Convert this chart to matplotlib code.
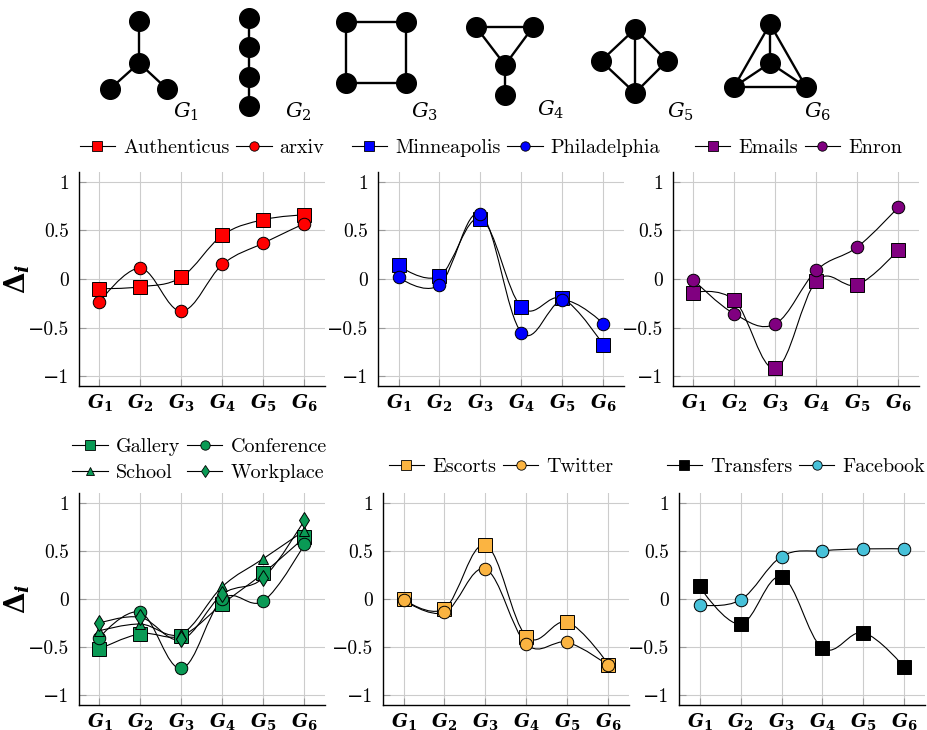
import numpy as np
import matplotlib
matplotlib.use('Agg')
import matplotlib.pyplot as plt
from matplotlib.path import Path
from matplotlib.patches import PathPatch
from matplotlib.lines import Line2D
from matplotlib.ticker import FuncFormatter

plt.rcParams['font.family'] = ['cmr10', 'DejaVu Serif']
plt.rcParams['mathtext.fontset'] = 'custom'
plt.rcParams['mathtext.rm'] = 'DejaVu Serif'
plt.rcParams['mathtext.it'] = 'DejaVu Serif:italic'
plt.rcParams['mathtext.bf'] = 'DejaVu Serif:bold:italic'
plt.rcParams['mathtext.sf'] = 'DejaVu Serif:bold'

# graphlets on the x axis
graphlets = [1, 2, 3, 4, 5, 6]
xtick_labels = [r'$\mathbf{G}_\mathsf{%d}$' % g for g in graphlets]
yticks = [-1, -0.5, 0, 0.5, 1]

# Delta_i values per network
authenticus = [-0.10, -0.08, 0.02, 0.45, 0.61, 0.66]
arxiv = [-0.24, 0.11, -0.33, 0.15, 0.37, 0.57]
minneapolis = [0.14, 0.03, 0.62, -0.29, -0.20, -0.68]
philadelphia = [0.02, -0.06, 0.67, -0.55, -0.22, -0.46]
emails = [-0.14, -0.22, -0.92, -0.02, -0.06, 0.30]
enron = [-0.01, -0.36, -0.46, 0.09, 0.33, 0.74]
gallery = [-0.52, -0.36, -0.38, -0.05, 0.27, 0.64]
conference = [-0.40, -0.14, -0.72, 0.00, -0.02, 0.57]
school = [-0.33, -0.26, -0.36, 0.13, 0.42, 0.71]
workplace = [-0.25, -0.19, -0.42, 0.05, 0.22, 0.82]
escorts = [0.00, -0.10, 0.56, -0.39, -0.24, -0.68]
twitter = [-0.01, -0.14, 0.31, -0.47, -0.45, -0.69]
transfers = [0.13, -0.26, 0.23, -0.51, -0.35, -0.71]
facebook = [-0.06, -0.01, 0.44, 0.50, 0.52, 0.52]

red, blue, purple = '#ff0000', '#0000ff', '#800080'
green, orange, cyan = '#0a9a55', '#fbb441', '#47c1d9'

# (label, values, color, marker, size)
panels = [
    [('Authenticus', authenticus, red, 's', 9.5), ('arxiv', arxiv, red, 'o', 9)],
    [('Minneapolis', minneapolis, blue, 's', 9.5), ('Philadelphia', philadelphia, blue, 'o', 9)],
    [('Emails', emails, purple, 's', 9.5), ('Enron', enron, purple, 'o', 9)],
    [('Gallery', gallery, green, 's', 9.5), ('Conference', conference, green, 'o', 9),
     ('School', school, green, '^', 7.5), ('Workplace', workplace, green, 'd', 8)],
    [('Escorts', escorts, orange, 's', 9.5), ('Twitter', twitter, orange, 'o', 9)],
    [('Transfers', transfers, 'k', 's', 9.5), ('Facebook', facebook, cyan, 'o', 9)],
]

# small graph icons drawn above the panels: node positions, edges, label position
icon_nodes = [
    [(139, 21), (139, 63), (110, 89), (167, 89)],
    [(249, 18), (249, 47), (249, 77), (249, 106)],
    [(346, 22), (406, 22), (406, 83), (346, 83)],
    [(476, 27), (533, 27), (505, 65), (505, 95)],
    [(635, 29), (601, 61), (667, 61), (635, 93)],
    [(770, 24), (770, 63), (734, 87), (806, 87)],
]
icon_edges = [
    [(1, 0), (1, 2), (1, 3)],
    [(0, 1), (1, 2), (2, 3)],
    [(0, 1), (1, 2), (2, 3), (3, 0)],
    [(0, 1), (0, 2), (1, 2), (2, 3)],
    [(0, 1), (0, 2), (1, 3), (2, 3), (0, 3)],
    [(0, 1), (0, 2), (0, 3), (1, 2), (1, 3), (2, 3)],
]
icon_label_pos = [(186, 112), (298, 112), (424, 112), (551, 110), (680, 112), (818, 112)]


def smooth_path(xs, ys, f=0.18):
    # cubic bezier through the points, like a pgfplots "smooth" plot
    pts = np.column_stack([xs, ys]).astype(float)
    n = len(pts)
    verts = [pts[0]]
    codes = [Path.MOVETO]
    for i in range(n - 1):
        p0, p1 = pts[i], pts[i + 1]
        t0 = pts[i + 1] - pts[i - 1] if i > 0 else np.zeros(2)
        t1 = pts[i + 2] - pts[i] if i + 2 < n else np.zeros(2)
        verts += [p0 + f * t0, p1 - f * t1, p1]
        codes += [Path.CURVE4] * 3
    return Path(verts, codes)


fig = plt.figure(figsize=(9.28, 7.30), dpi=100)

W, H = 928, 730
ax_lefts = [79, 378, 673, 79, 383, 679]
ax_tops = [172, 172, 172, 493, 493, 493]
ax_w = 246
ax_h = [214, 214, 214, 212, 212, 212]
leg_anchor = [(0.5, 1.112), (0.52, 1.112), (0.51, 1.112),
              (0.49, 1.155), (0.48, 1.123), (0.475, 1.123)]

fmt = FuncFormatter(lambda v, p: ('%g' % v).replace('-', '\u2212'))

for k, series in enumerate(panels):
    l, t, h = ax_lefts[k], ax_tops[k], ax_h[k]
    ax = fig.add_axes([l / W, 1 - (t + h) / H, ax_w / W, h / H])
    handles = []
    for label, vals, col, mk, ms in series:
        ax.add_patch(PathPatch(smooth_path(graphlets, vals), fill=False,
                               lw=0.8, edgecolor='k', zorder=3))
        ax.plot(graphlets, vals, ls='none', marker=mk, ms=ms, mfc=col,
                mec='k', mew=0.7, zorder=4)
        handles.append(Line2D([], [], color='k', lw=0.8, marker=mk, ms=ms * 0.75,
                              mfc=col, mec='k', mew=0.6, label=label))
    ax.set_xlim(0.5, 6.5)
    ax.set_ylim(-1.1, 1.1)
    ax.set_xticks(graphlets)
    ax.set_xticklabels(xtick_labels, fontsize=13.5)
    ax.set_yticks(yticks)
    ax.yaxis.set_major_formatter(fmt)
    ax.tick_params(axis='y', direction='in', length=5, color='#999999', labelsize=14, pad=7)
    ax.tick_params(axis='x', direction='in', length=5, color='#999999', pad=4)
    ax.grid(True, color='#cccccc', lw=0.8)
    ax.set_axisbelow(True)
    for s in ['top', 'right']:
        ax.spines[s].set_visible(False)
    for s in ['left', 'bottom']:
        ax.spines[s].set_linewidth(1.0)
    if len(handles) == 4:
        handles = [handles[0], handles[2], handles[1], handles[3]]
    ax.legend(handles=handles, ncol=2, loc='center', bbox_to_anchor=leg_anchor[k],
              frameon=False, fontsize=14.5, handlelength=1.75, handletextpad=0.4,
              columnspacing=0.35, labelspacing=0.42, borderaxespad=0, borderpad=0)
    if k in (0, 3):
        ax.set_ylabel(r'$\mathsf{\Delta}_\mathbf{i}$', fontsize=20)
        ax.yaxis.set_label_coords(-0.19, 0.5)

# graph icons
ax_icons = fig.add_axes([0, 1 - 131 / H, 1, 131 / H])
ax_icons.set_xlim(0, W)
ax_icons.set_ylim(131, 0)
ax_icons.axis('off')
for g, nodes in enumerate(icon_nodes):
    nodes = np.array(nodes)
    for a, b in icon_edges[g]:
        ax_icons.plot(nodes[[a, b], 0], nodes[[a, b], 1], color='k', lw=1.7, zorder=1)
    ax_icons.scatter(nodes[:, 0], nodes[:, 1], s=200, color='k', zorder=2)
    lx, ly = icon_label_pos[g]
    ax_icons.text(lx, ly, r'$\mathit{G}_\mathit{%d}$' % graphlets[g], fontsize=15,
                  ha='center', va='center')

fig.savefig('out.png', dpi=100)
